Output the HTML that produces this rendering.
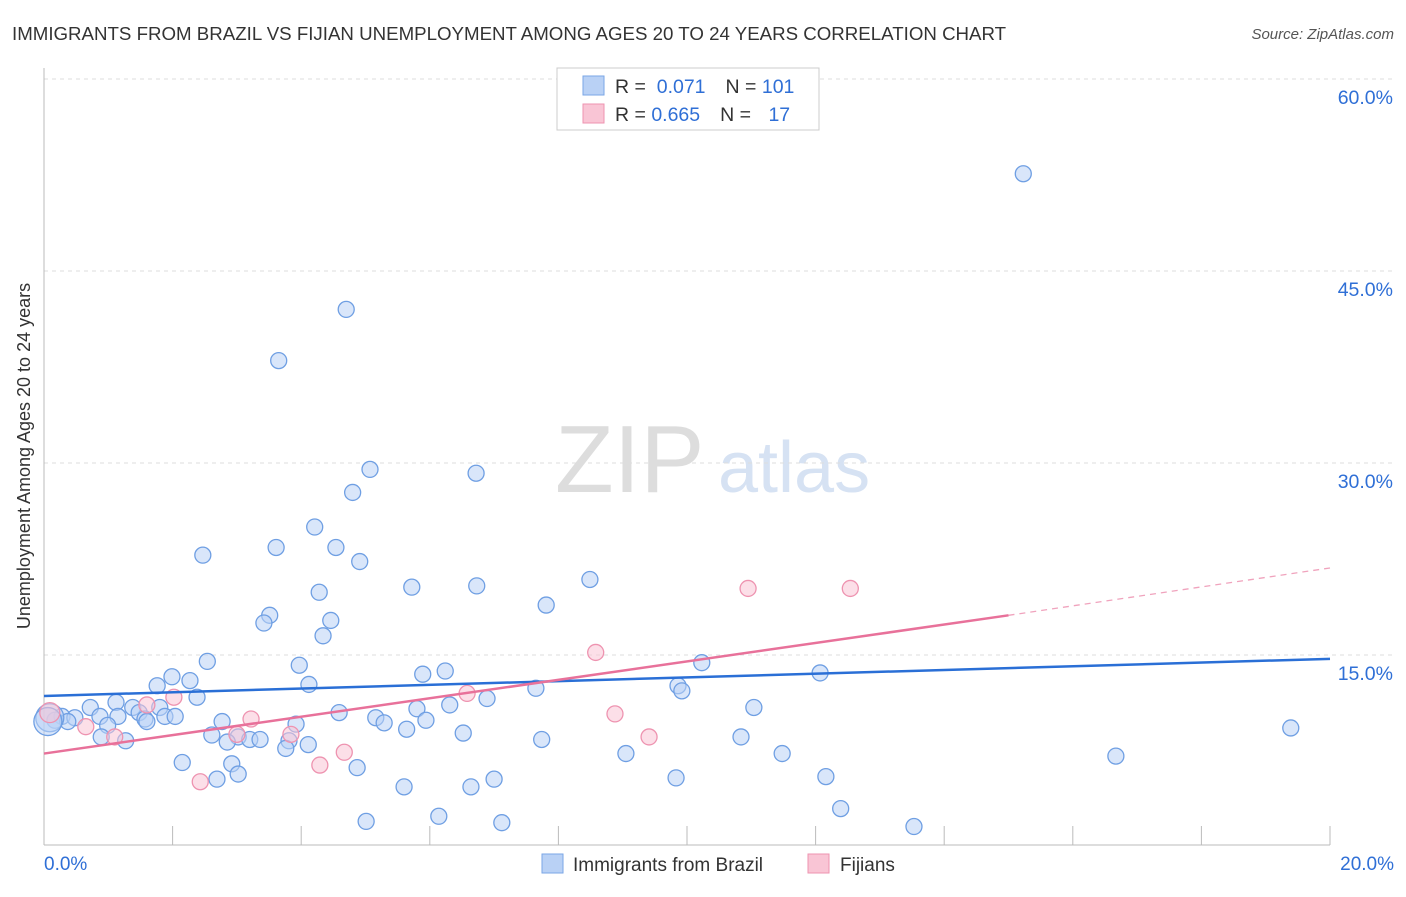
<!DOCTYPE html>
<html><head><meta charset="utf-8"><style>
body{margin:0;background:#fff;font-family:"Liberation Sans",sans-serif;}
svg text{font-family:"Liberation Sans",sans-serif;}
</style></head><body>
<svg id="c" width="1406" height="892" xmlns="http://www.w3.org/2000/svg">
<text x="12" y="40" font-size="18.7" fill="#333">IMMIGRANTS FROM BRAZIL VS FIJIAN UNEMPLOYMENT AMONG AGES 20 TO 24 YEARS CORRELATION CHART</text>
<text x="1394" y="39" font-size="15" fill="#555" font-style="italic" text-anchor="end">Source: ZipAtlas.com</text>
<text x="30" y="456" font-size="18" fill="#333" text-anchor="middle" transform="rotate(-90 30 456)">Unemployment Among Ages 20 to 24 years</text>
<text x="555" y="492" font-size="96" fill="#ddd" font-family="Liberation Serif">ZIP</text>
<text x="718" y="492" font-size="72" fill="#d6e2f3">atlas</text>
<g id="grid"></g><g id="marks"></g>
<g>
<rect x="557" y="68" width="262" height="62" fill="#fff" stroke="#ccc"/>
<rect x="583" y="76" width="21" height="19" fill="#b9d1f5" stroke="#7aa6e6"/>
<rect x="583" y="104" width="21" height="19" fill="#f9c5d5" stroke="#ee93b0"/>
<text x="615" y="93" font-size="19.5" fill="#333">R = <tspan fill="#2f6fd6">&#160;0.071</tspan><tspan dx="20">N = </tspan><tspan fill="#2f6fd6">101</tspan></text>
<text x="615" y="121" font-size="19.5" fill="#333">R = <tspan fill="#2f6fd6">0.665</tspan><tspan dx="20">N = </tspan><tspan fill="#2f6fd6" dx="12">17</tspan></text>
</g>
<g>
<rect x="542" y="854" width="21" height="19" fill="#b9d1f5" stroke="#7aa6e6"/>
<text x="573" y="871" font-size="19" fill="#333">Immigrants from Brazil</text>
<rect x="808" y="854" width="21" height="19" fill="#f9c5d5" stroke="#ee93b0"/>
<text x="840" y="871" font-size="19" fill="#333">Fijians</text>
</g>
</svg>
<script>
const yTicks=[15,30,45,60];
const yTickLabels=["15.0%","30.0%","45.0%","60.0%"];
const xEndLabels=["0.0%","20.0%"];
const brazilX=[15.23,4.70,3.65,5.07,6.72,4.80,4.21,2.47,3.61,4.54,4.91,8.49,5.72,6.73,4.28,7.81,3.51,3.42,4.46,4.34,2.54,3.97,10.23,6.24,5.89,12.07,1.99,2.27,1.76,4.12,7.65,9.86,9.92,6.89,2.38,1.12,0.72,1.38,1.80,6.31,5.80,11.04,4.59,1.48,1.15,1.88,2.04,0.28,0.48,0.87,1.57,0.17,0.37,5.16,5.94,2.77,5.29,1.60,3.92,0.99,5.64,6.52,2.61,3.02,3.20,3.36,2.85,3.81,4.11,7.74,10.84,0.89,1.27,3.76,9.05,11.48,16.67,19.39,2.15,2.92,4.87,3.02,2.69,7.00,9.83,12.16,5.60,6.64,12.39,5.01,6.14,7.12,13.53,0.09,0.06];
const brazilY=[52.6,42.0,38.0,29.5,29.2,27.7,25.0,22.8,23.4,23.4,22.3,20.9,20.3,20.4,19.9,18.9,18.1,17.5,17.7,16.5,14.5,14.2,14.4,13.75,13.5,13.6,13.3,13.0,12.6,12.7,12.4,12.6,12.2,11.6,11.7,11.3,10.9,10.9,10.9,11.1,10.8,10.9,10.5,10.5,10.2,10.2,10.2,10.2,10.1,10.2,10.0,9.9,9.8,10.1,9.9,9.8,9.7,9.8,9.6,9.5,9.2,8.9,8.75,8.6,8.4,8.4,8.2,8.3,8.0,8.4,8.6,8.6,8.3,7.7,7.3,7.3,7.1,9.3,6.6,6.5,6.2,5.7,5.3,5.3,5.4,5.5,4.7,4.7,3.0,2.0,2.4,1.9,1.6,10.1,9.8];
const fijiX=[2.02,1.6,2.43,3.22,3.0,3.84,4.29,4.67,6.58,8.58,8.88,9.41,10.95,12.54,0.65,1.10,0.09];
const fijiY=[11.7,11.1,5.1,10.0,8.8,8.8,6.4,7.4,12.0,15.2,10.4,8.6,20.2,20.2,9.4,8.6,10.5];
const blueLine=[[0,11.8],[20,14.7]];
const pinkLine=[[0,7.3],[15,18.1]];
const pinkDash=[[15,18.1],[20,21.8]];
const X=v=>44+v*64.3, Y=v=>847-v*12.8;
const NS="http://www.w3.org/2000/svg";
function mk(t,a,p){const e=document.createElementNS(NS,t);for(const k in a)e.setAttribute(k,a[k]);p.appendChild(e);return e;}
const gGrid=document.getElementById('grid'), gMarks=document.getElementById('marks');
yTicks.forEach((t,i)=>{
 const l=mk('line',{x1:44,x2:1394,y1:Y(t),y2:Y(t),stroke:'#ddd','stroke-dasharray':'4,4'},gGrid);
 
 
 const tx=mk('text',{x:1393,y:Y(t)+25,'font-size':19.5,fill:'#2f6fd6','text-anchor':'end'},gGrid);
 tx.textContent=yTickLabels[i];
 
 
});
const ax=mk('line',{x1:44,x2:1330,y1:845,y2:845,stroke:'#bbb'},gGrid);


const ay=mk('line',{x1:44,x2:44,y1:68,y2:845,stroke:'#bbb'},gGrid);


for(let i=1;i<=10;i++){const t=mk('line',{x1:X(i*2),x2:X(i*2),y1:826,y2:845,stroke:'#bbb'},gGrid);
 
 }
[[0,'start',44],[1,'end',1394]].forEach(([i,a,x])=>{const t=mk('text',{x:x,y:870,'font-size':19,fill:'#2f6fd6','text-anchor':a},gGrid);t.textContent=xEndLabels[i];
 
 });
function dot(x,y,f,s,r,name){const c=mk('circle',{cx:X(x),cy:Y(y),r:r,fill:f,'fill-opacity':0.55,stroke:s,'stroke-width':1.3},gMarks);
 
 }
brazilX.forEach((x,i)=>dot(x,brazilY[i],'#b9d1f5','#6f9fe3',i>=brazilX.length-2?14:8,'brazil-point'));
fijiX.forEach((x,i)=>dot(x,fijiY[i],'#f9c5d5','#ee93b0',i==fijiX.length-1?10:8,'fijian-point'));
function ln(p,c,w,d,name){const l=mk('line',{x1:X(p[0][0]),y1:Y(p[0][1]),x2:X(p[1][0]),y2:Y(p[1][1]),stroke:c,'stroke-width':w},gMarks);if(d)l.setAttribute('stroke-dasharray',d);
 
 }
ln(blueLine,'#2a6fd6',2.5,null,'brazil-trend-line');
ln(pinkLine,'#e8719a',2.5,null,'fijian-trend-line');
ln(pinkDash,'#f0a3bd',1.3,'6,5','fijian-trend-extension');
</script>
</body></html>
